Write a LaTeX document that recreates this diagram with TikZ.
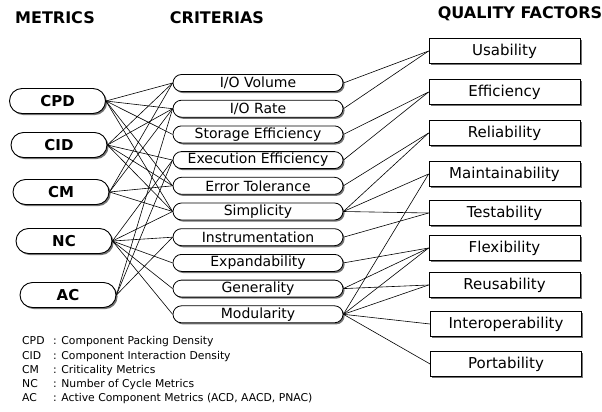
\documentclass[tikz,border=0pt]{standalone}
\usepackage{fontspec}
\setmainfont{DejaVu Sans}
\usetikzlibrary{shapes.misc,shadows}
\begin{document}
\begin{tikzpicture}[x=1pt,y=-1pt,
  shad/.style={drop shadow={shadow xshift=1.6pt,shadow yshift=-1.6pt,fill=black!55,opacity=1}},
  metric/.style={rounded rectangle,draw=black,line width=0.9pt,fill=white,shad,
     minimum width=96pt,minimum height=25pt,inner sep=0pt,font=\fontsize{15}{18}\selectfont\bfseries},
  crit/.style={rounded rectangle,draw=black,line width=0.8pt,fill=white,shad,
     minimum width=170pt,minimum height=17pt,inner sep=0pt,font=\fontsize{14}{16}\selectfont},
  qf/.style={rectangle,draw=black,line width=0.8pt,fill=white,shad,
     minimum width=151pt,minimum height=25pt,inner sep=0pt,font=\fontsize{15}{18}\selectfont},
  head/.style={font=\fontsize{16}{19}\selectfont\bfseries,inner sep=0pt},
  leg/.style={anchor=west,font=\fontsize{10.8}{13}\selectfont,inner sep=0pt},
  conn/.style={line width=0.6pt,black}]
\useasboundingbox (0,0) rectangle (602,412);

% headers
\node[head] (hm) at (55,18) {METRICS};
\node[head] (hc) at (217,18) {CRITERIAS};
\node[head] (hq) at (520,14) {QUALITY FACTORS};

% metrics
\node[metric] (cpd) at (57.5,101) {CPD};
\node[metric] (cid) at (59,145) {CID};
\node[metric] (cm)  at (61,192) {CM};
\node[metric] (nc)  at (64,241) {NC};
\node[metric] (ac)  at (68,295) {AC};

% criteria
\node[crit] (vol)  at (258,83)    {I/O Volume};
\node[crit] (rate) at (258,108.7) {I/O Rate};
\node[crit] (stor) at (258,134.4) {Storage Efficiency};
\node[crit] (exe)  at (258,160.1) {Execution Efficiency};
\node[crit] (err)  at (258,185.8) {Error Tolerance};
\node[crit] (simp) at (258,211.5) {Simplicity};
\node[crit] (inst) at (258,237.2) {Instrumentation};
\node[crit] (expa) at (258,262.9) {Expandability};
\node[crit] (gen)  at (258,288.6) {Generality};
\node[crit] (mod)  at (258,314.3) {Modularity};

% quality factors
\node[qf] (usa)  at (504.5,51)  {Usability};
\node[qf] (eff)  at (504.5,92)  {Efficiency};
\node[qf] (rel)  at (504.5,133) {Reliability};
\node[qf] (main) at (504.5,174) {Maintainability};
\node[qf] (test) at (504.5,213) {Testability};
\node[qf] (flex) at (504.5,248) {Flexibility};
\node[qf] (reus) at (504.5,285) {Reusability};
\node[qf] (inter) at (506,324) {Interoperability};
\node[qf] (port) at (506,364) {Portability};

% metrics -> criteria
\foreach \m/\c in {cpd/vol,cpd/rate,cpd/stor,cpd/err,cpd/simp,
                   cid/vol,cid/rate,cid/exe,cid/err,cid/simp,
                   cm/vol,cm/rate,cm/err,cm/simp,
                   nc/exe,nc/simp,nc/inst,nc/expa,nc/gen,nc/mod,
                   ac/rate,ac/exe,ac/inst}
  \draw[conn] (\m.east) -- (\c.west);

% criteria -> quality factors
\foreach \c/\q in {vol/usa,rate/usa,stor/eff,exe/eff,err/rel,simp/rel,
                   simp/main,mod/main,simp/test,inst/test,
                   expa/flex,gen/flex,mod/flex,gen/reus,mod/reus,
                   mod/inter,mod/port}
  \draw[conn] (\c.east) -- (\q.west);

% legend
\node[leg] (l1) at (22,342) {\makebox[31pt][l]{CPD}: Component Packing Density};
\node[leg] (l2) at (22,356.5) {\makebox[31pt][l]{CID}: Component Interaction Density};
\node[leg] (l3) at (22,370.8) {\makebox[31pt][l]{CM}: Criticality Metrics};
\node[leg] (l4) at (22,385) {\makebox[31pt][l]{NC}: Number of Cycle Metrics};
\node[leg] (l5) at (22,399) {\makebox[31pt][l]{AC}: Active Component Metrics (ACD, AACD, PNAC)};
\end{tikzpicture}
\end{document}
